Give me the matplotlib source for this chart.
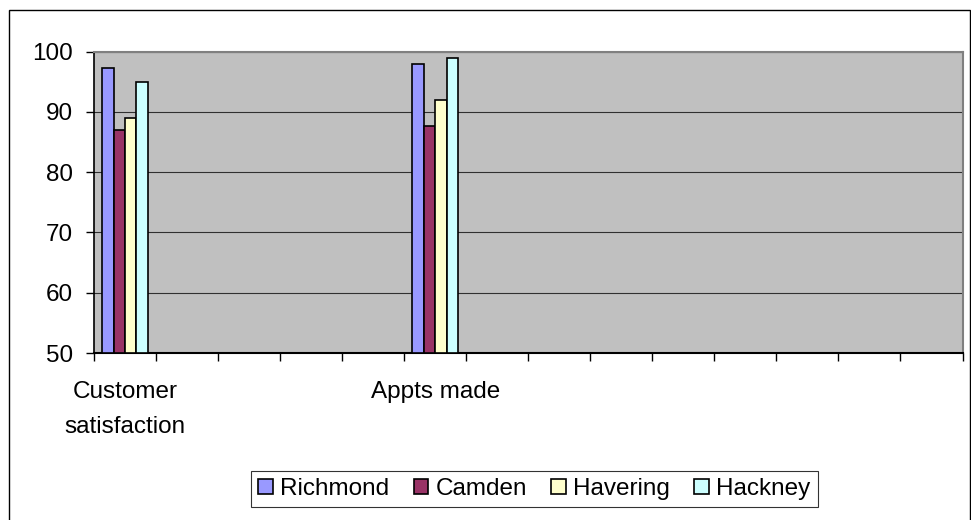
import matplotlib
matplotlib.use("Agg")
import matplotlib.pyplot as plt
from matplotlib.patches import Rectangle
import numpy as np

plt.rcParams['font.family'] = ['Liberation Sans', 'DejaVu Sans']

# Category slots along the x axis (only two are populated)
categories = ["Customer\nsatisfaction", "", "", "", "", "Appts made",
              "", "", "", "", "", "", "", ""]
series_names = ["Richmond", "Camden", "Havering", "Hackney"]
richmond = [97.3, None, None, None, None, 98.0, None, None, None, None, None, None, None, None]
camden = [87.0, None, None, None, None, 87.7, None, None, None, None, None, None, None, None]
havering = [89.0, None, None, None, None, 92.0, None, None, None, None, None, None, None, None]
hackney = [95.0, None, None, None, None, 99.0, None, None, None, None, None, None, None, None]
colors = ["#9999FF", "#993366", "#FFFFCC", "#CCFFFF"]
yticks = [50, 60, 70, 80, 90, 100]

FS = 17.5
W, H = 971, 520
fig = plt.figure(figsize=(W / 100, H / 100), dpi=100)
fig.patch.set_facecolor("white")

# Chart-area border
fig.patches.append(Rectangle((8.5 / W, -0.05), (969.5 - 8.5) / W, 1.05 - 9.5 / H,
                             transform=fig.transFigure, fill=False,
                             edgecolor="black", linewidth=1.0))

left, right, top, bottom = 94, 962.5, 51.5, 353
ax = fig.add_axes([left / W, 1 - bottom / H, (right - left) / W, (bottom - top) / H])
ax.set_facecolor("#C0C0C0")

n = len(categories)
bw = 0.185
x = np.arange(n)
all_series = [richmond, camden, havering, hackney]
for i, (name, vals, c) in enumerate(zip(series_names, all_series, colors)):
    xs = [xi + 0.5 + (i - 1.5) * bw for xi, v in zip(x, vals) if v is not None]
    hs = [v - 50 for v in vals if v is not None]
    ax.bar(xs, hs, bottom=50, width=bw, color=c, edgecolor="black",
           linewidth=1.2, label=name, zorder=3)

ax.set_xlim(0, n)
ax.set_ylim(50, 100)
ax.set_yticks(yticks)
ax.set_yticklabels([str(t) for t in yticks], fontsize=FS)
ax.set_xticks(np.arange(n + 1))
ax.set_xticklabels([])
ax.set_xticks(x + 0.5, minor=True)
ax.set_xticklabels(categories, minor=True, fontsize=FS, multialignment="center",
                   linespacing=1.8)
ax.tick_params(axis="x", which="minor", length=0, pad=20)
ax.tick_params(axis="x", which="major", length=6, width=1, direction="out", color="black")
ax.tick_params(axis="y", length=6, width=1, direction="out", pad=9)

ax.yaxis.grid(True, color="#303030", linewidth=0.8, zorder=1)
ax.set_axisbelow(True)
ax.spines["left"].set_color("black")
ax.spines["bottom"].set_color("black")
ax.spines["left"].set_linewidth(1.2)
ax.spines["bottom"].set_linewidth(1.5)
ax.spines["top"].set_color("#808080")
ax.spines["top"].set_linewidth(1.5)
ax.spines["right"].set_color("#808080")
ax.spines["right"].set_linewidth(1.5)

leg = fig.legend(loc="center", bbox_to_anchor=(534.5 / W, 1 - 489 / H), ncol=4,
                 fontsize=FS, frameon=True, fancybox=False, edgecolor="black",
                 handlelength=0.6, handleheight=0.6, handletextpad=0.3,
                 columnspacing=1.0, borderpad=0.3, borderaxespad=0)
leg.get_frame().set_linewidth(0.8)

fig.savefig("out.png", dpi=100)
